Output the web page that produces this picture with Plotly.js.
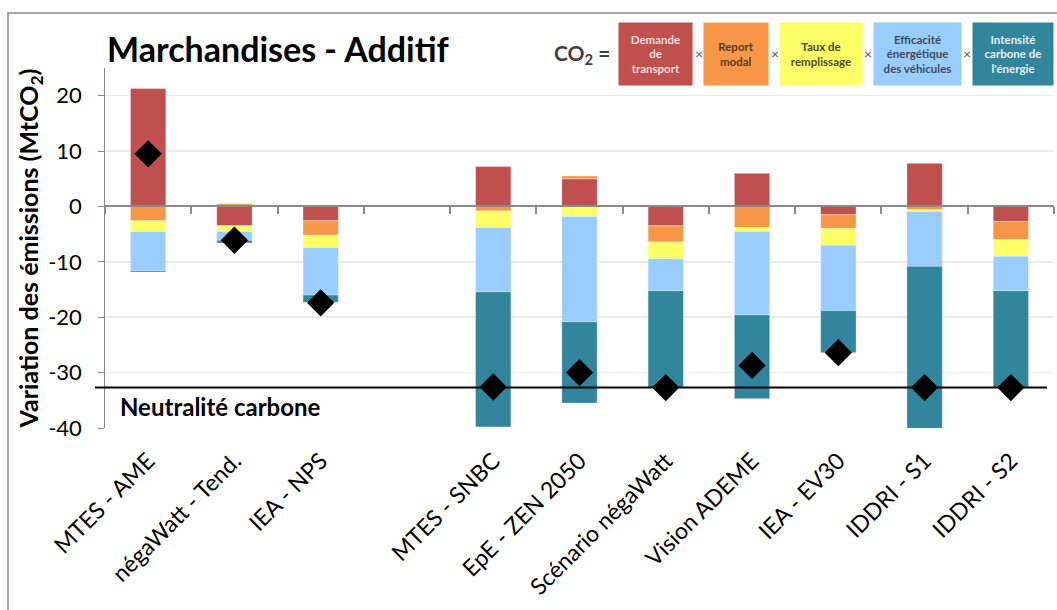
<!DOCTYPE html>
<html>
<head>
<meta charset="utf-8">
<script src="https://cdn.plot.ly/plotly-3.0.1.min.js"></script>
<style>html,body{margin:0;padding:0;background:#fff;}#chart{width:1057px;height:610px;}</style>
</head>
<body>
<div id="chart"></div>
<script>
// ---- Data ----
const categories = ["MTES - AME", "négaWatt - Tend.", "IEA - NPS", " ", "MTES - SNBC", "EpE - ZEN 2050",
  "Scénario négaWatt", "Vision ADEME", "IEA - EV30", "IDDRI - S1", "IDDRI - S2"];
const demandeTransport = [21.3, -3.5, -2.6, null, 7.2, 5.0, -3.5, 6.0, -1.5, 7.8, -2.7];
const reportModal = [-2.6, 0.5, -2.6, null, -0.8, 0.5, -2.9, -3.8, -2.5, -0.6, -3.3];
const tauxRemplissage = [-1.9, -1.0, -2.2, null, -3.0, -1.8, -3.05, -0.7, -3.0, -0.3, -3.0];
const efficaciteVehicules = [-7.1, -1.6, -8.6, null, -11.6, -19.0, -5.75, -15.1, -11.8, -9.9, -6.2];
const intensiteCarbone = [-0.25, -0.5, -1.3, null, -24.4, -14.7, -17.5, -15.1, -7.6, -29.7, -17.5];
const variationTotale = [9.5, -6.1, -17.4, null, -32.6, -30.0, -32.7, -28.7, -26.4, -32.7, -32.7];
const neutraliteCarbone = -32.7;
const seriesNames = ["Demande<br>de<br>transport", "Report<br>modal", "Taux de<br>remplissage",
  "Efficacité<br>énergétique<br>des véhicules", "Intensité<br>carbone de<br>l'énergie"];
const seriesValues = [demandeTransport, reportModal, tauxRemplissage, efficaciteVehicules, intensiteCarbone];
const yTicks = [-40, -30, -20, -10, 0, 10, 20];

// ---- Styles ----
const colors = ["#C0504D", "#F79646", "#FFFF66", "#99CCFF", "#31859C"];
const boxTextColors = ["#F4DEDD", "#5A3B20", "#4A4A2A", "#3E4C5C", "#E4F1F4"];
const FONT = "Lato, 'Open Sans', 'DejaVu Sans', sans-serif";

const traces = seriesValues.map((vals, i) => ({
  type: "bar", x: categories, y: vals, name: seriesNames[i],
  marker: {color: colors[i], line: {color: "rgba(255,255,255,0.35)", width: 1}},
  xaxis: "x", yaxis: "y", showlegend: false, hoverinfo: "y"
}));
traces.push({
  type: "scatter", mode: "markers", x: categories, y: variationTotale,
  marker: {symbol: "diamond", size: 21, color: "#000"},
  xaxis: "x2", yaxis: "y", showlegend: false, hoverinfo: "y"
});

const yMin = -40, yMax = 25;
const L = 105, R = 3, T = 68, B = 182;
const plotW = 1057 - L - R, plotH = 610 - T - B;
const px = v => (v - L) / plotW;          // pixel x -> paper x
const py = v => (610 - B - v) / plotH;    // pixel y -> paper y

const annotations = [];
// legend equation
annotations.push({xref: "paper", yref: "paper", x: px(582), y: py(54), xanchor: "center", yanchor: "middle",
  text: "<b>CO<sub>2</sub> =</b>", showarrow: false, font: {family: FONT, size: 21, color: "#404040"}});
const boxCenters = [655, 735.5, 820.5, 917, 1013.3];
const boxWidths = [73, 64, 82, 87, 80];
seriesNames.forEach((n, i) => {
  annotations.push({xref: "paper", yref: "paper", x: px(boxCenters[i]), y: py(54), xanchor: "center", yanchor: "middle",
    text: "<b>" + n + "</b>", showarrow: false, bgcolor: colors[i], width: boxWidths[i], height: 62,
    borderpad: 0, align: "center", font: {family: FONT, size: 11.5, color: boxTextColors[i]}});
});
[699, 775, 867.7, 966.7].forEach(x => {
  annotations.push({xref: "paper", yref: "paper", x: px(x), y: py(54), xanchor: "center", yanchor: "middle",
    text: "×", showarrow: false, font: {family: FONT, size: 14, color: "#555"}});
});
annotations.push({xref: "paper", yref: "y", x: px(118), y: -36.2, xanchor: "left", yanchor: "middle",
  text: "<b>Neutralité carbone</b>", showarrow: false, font: {family: FONT, size: 24, color: "#000"}});

const layout = {
  width: 1057, height: 610,
  margin: {l: L, r: R, t: T, b: B},
  paper_bgcolor: "#fff", plot_bgcolor: "#fff",
  font: {family: FONT, color: "#000"},
  barmode: "relative", bargap: 0.59,
  title: {text: "<b>Marchandises - Additif</b>", x: 107 / 1057, xref: "container", xanchor: "left",
    y: 1 - 50 / 610, yref: "container", yanchor: "middle", font: {family: FONT, size: 34, color: "#000"}},
  xaxis: {type: "category", range: [-0.5, 10.5], showline: false, ticks: "", showgrid: false, zeroline: false,
    tickangle: -45, tickfont: {family: FONT, size: 23, color: "#000"}, ticklabelstandoff: 14, fixedrange: true},
  xaxis2: {type: "category", overlaying: "x", anchor: "free", position: (0 - yMin) / (yMax - yMin),
    range: [-0.5, 10.5], showline: true, linecolor: "#8A8A8A", linewidth: 2, ticks: "outside",
    tickson: "boundaries", ticklen: 7, tickwidth: 2, tickcolor: "#8A8A8A", showticklabels: false,
    showgrid: false, zeroline: false},
  yaxis: {range: [yMin, yMax], tickvals: yTicks, ticktext: yTicks.map(v => String(v) + "\u00a0\u00a0"),
    showline: true, linecolor: "#8A8A8A",
    linewidth: 1.5, ticks: "outside", ticklen: 6, tickcolor: "#8A8A8A", gridcolor: "#EBEBEB", gridwidth: 1.5,
    zeroline: false, tickfont: {family: FONT, size: 22, color: "#000"},
    title: {text: "<b>Variation des émissions (MtCO<sub>2</sub>)</b>", standoff: 2, font: {family: FONT, size: 25, color: "#000"}}},
  shapes: [
    {type: "line", xref: "paper", yref: "y", x0: px(95), x1: px(1047), y0: neutraliteCarbone, y1: neutraliteCarbone,
      line: {color: "#000", width: 2}, layer: "above"},
    {type: "rect", xref: "paper", yref: "paper", x0: px(8), x1: px(1070), y0: py(640), y1: py(13),
      line: {color: "#8A8A8A", width: 1.5}, fillcolor: "rgba(0,0,0,0)", layer: "below"}
  ],
  annotations: annotations
};

Plotly.newPlot("chart", traces, layout, {displayModeBar: false, staticPlot: true});
</script>
</body>
</html>
